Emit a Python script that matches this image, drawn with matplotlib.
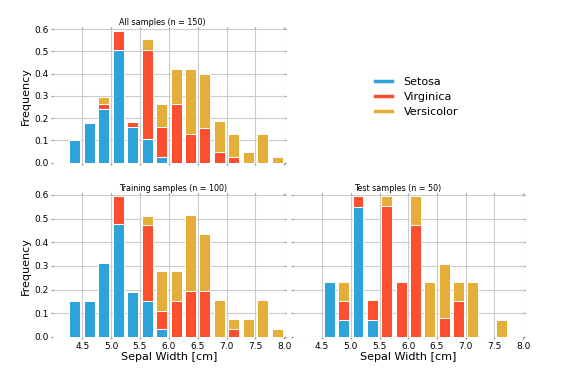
import numpy as np
import matplotlib
matplotlib.use("Agg")
import matplotlib.pyplot as plt
from matplotlib.lines import Line2D

# bin centres (sepal length, cm) and stacked segment heights per class
centers_all = [4.375, 4.625, 4.875, 5.125, 5.375, 5.625, 5.875, 6.125,
               6.375, 6.625, 6.875, 7.125, 7.375, 7.625, 7.875]
setosa_all = [0.10, 0.18, 0.24, 0.505, 0.16, 0.105, 0.027, 0, 0, 0, 0, 0, 0, 0, 0]
virginica_all = [0, 0, 0.024, 0.087, 0.023, 0.40, 0.132, 0.263, 0.129, 0.157,
                 0.047, 0.024, 0, 0, 0]
versicolor_all = [0, 0, 0.03, 0, 0, 0.05, 0.104, 0.16, 0.294, 0.241, 0.14,
                  0.105, 0.047, 0.13, 0.024]

centers_train = centers_all
setosa_train = [0.153, 0.153, 0.311, 0.476, 0.19, 0.151, 0.033, 0, 0, 0, 0, 0, 0, 0, 0]
virginica_train = [0, 0, 0, 0.12, 0, 0.322, 0.076, 0.151, 0.193, 0.193, 0,
                   0.033, 0, 0, 0]
versicolor_train = [0, 0, 0, 0, 0, 0.039, 0.169, 0.127, 0.322, 0.24, 0.155,
                    0.042, 0.075, 0.155, 0.033]

centers_test = [4.625, 4.875, 5.125, 5.375, 5.625, 5.875, 6.125, 6.375,
                6.625, 6.875, 7.125, 7.375, 7.625]
setosa_test = [0.23, 0.073, 0.551, 0.073, 0, 0, 0, 0, 0, 0, 0, 0, 0]
virginica_test = [0, 0.078, 0.045, 0.082, 0.554, 0.233, 0.473, 0, 0.08, 0.151, 0, 0, 0]
versicolor_test = [0, 0.082, 0, 0, 0.042, 0, 0.123, 0.23, 0.23, 0.082, 0.233, 0, 0.073]

labels = ["Setosa", "Virginica", "Versicolor"]
colors = ["#30a2da", "#fc4f30", "#e5ae38"]
xticks = [4.5, 5.0, 5.5, 6.0, 6.5, 7.0, 7.5, 8.0]
yticks = [0.0, 0.1, 0.2, 0.3, 0.4, 0.5, 0.6]


def draw_panel(ax, centers, series, title, tx, show_x, show_y):
    bottom = np.zeros(len(centers))
    for vals, c in zip(series, colors):
        vals = np.array(vals)
        ax.bar(centers, vals, width=0.19, bottom=bottom, color=c,
               edgecolor="white", linewidth=0.7, zorder=2)
        bottom = bottom + vals
    ax.set_xlim(4.0, 8.0)
    ax.set_ylim(0, 0.6)
    ax.set_xticks(xticks)
    ax.set_yticks(yticks)
    ax.set_axisbelow(True)
    ax.grid(True, color="#cbcbcb", lw=0.8)
    for s in ax.spines.values():
        s.set_visible(False)
    ax.tick_params(which="both", direction="out", length=1.5, width=1,
                   color="#999999", labelsize=6.5, pad=2,
                   top=True, right=True,
                   labelbottom=show_x, labelleft=show_y)
    if show_x:
        ax.set_xticklabels(["%.1f" % t for t in xticks])
        ax.set_xlabel("Sepal Width [cm]", fontsize=8, labelpad=1)
    if show_y:
        ax.set_yticklabels(["%.1f" % t for t in yticks])
        ax.set_ylabel("Frequency", fontsize=8, labelpad=2)
    ax.set_title(title, fontsize=5.8, x=tx, pad=3)


fig = plt.figure("plot", figsize=(5.82, 3.75), dpi=100)
fig.patch.set_facecolor("white")

ax_all = fig.add_axes([0.0916, 0.566, 0.397, 0.3565])
ax_train = fig.add_axes([0.0916, 0.102, 0.397, 0.378])
ax_test = fig.add_axes([0.504, 0.102, 0.395, 0.378])

draw_panel(ax_all, centers_all, [setosa_all, virginica_all, versicolor_all],
           "All samples (n = 150)", 0.47, False, True)
draw_panel(ax_train, centers_train, [setosa_train, virginica_train, versicolor_train],
           "Training samples (n = 100)", 0.52, True, True)
draw_panel(ax_test, centers_test, [setosa_test, virginica_test, versicolor_test],
           "Test samples (n = 50)", 0.455, True, False)

handles = [Line2D([0], [0], color=c, lw=2.5) for c in colors]
fig.legend(handles, labels, loc="upper left", bbox_to_anchor=(0.645, 0.795),
           frameon=False, fontsize=8, handlelength=1.45, handletextpad=1.1,
           labelspacing=0.45, borderpad=0, borderaxespad=0)

fig.savefig("out.png", dpi=100)
